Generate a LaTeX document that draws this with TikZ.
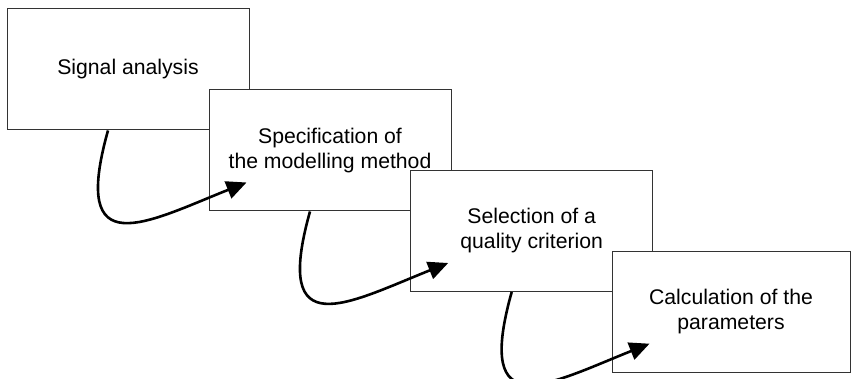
\documentclass[tikz,border=0pt]{standalone}
\usepackage{fontspec}
\setmainfont{Liberation Sans}
\usetikzlibrary{arrows.meta,calc}
\tikzset{
  stage/.style={draw=black!80, line width=1pt, fill=white, minimum width=242pt, minimum height=121pt,
    align=center, inner sep=0pt, font=\fontsize{21.2}{25}\selectfont},
  flow/.style={line width=2.6pt, -{Triangle[length=20pt,width=18pt]}}
}
\begin{document}
\begin{tikzpicture}[x=1pt,y=-1pt]
\useasboundingbox (0,0) rectangle (851,379);
\node[stage] (b1) at (128,69.5) {\raisebox{-1.5pt}{Signal analysis}};
\node[stage] (b2) at (330,150.5) {Specification of\\the modelling method};
\coordinate (t1) at ($(b2.north west)+(38,93)$);
\draw[flow] ($(b1.south)+(-20,0)$) .. controls +(-38,135) and +(-100,40) .. (t1);
\node[stage] (b3) at (531.7,231) {Selection of a\\quality criterion};
\coordinate (t2) at ($(b3.north west)+(38,93)$);
\draw[flow] ($(b2.south)+(-20,0)$) .. controls +(-38,135) and +(-100,40) .. (t2);
\node[stage, minimum width=238pt] (b4) at (731,311.7) {Calculation of the\\parameters};
\coordinate (t3) at ($(b4.north west)+(38,93)$);
\draw[flow] ($(b3.south)+(-20,0)$) .. controls +(-38,135) and +(-100,40) .. (t3);
\end{tikzpicture}
\end{document}
